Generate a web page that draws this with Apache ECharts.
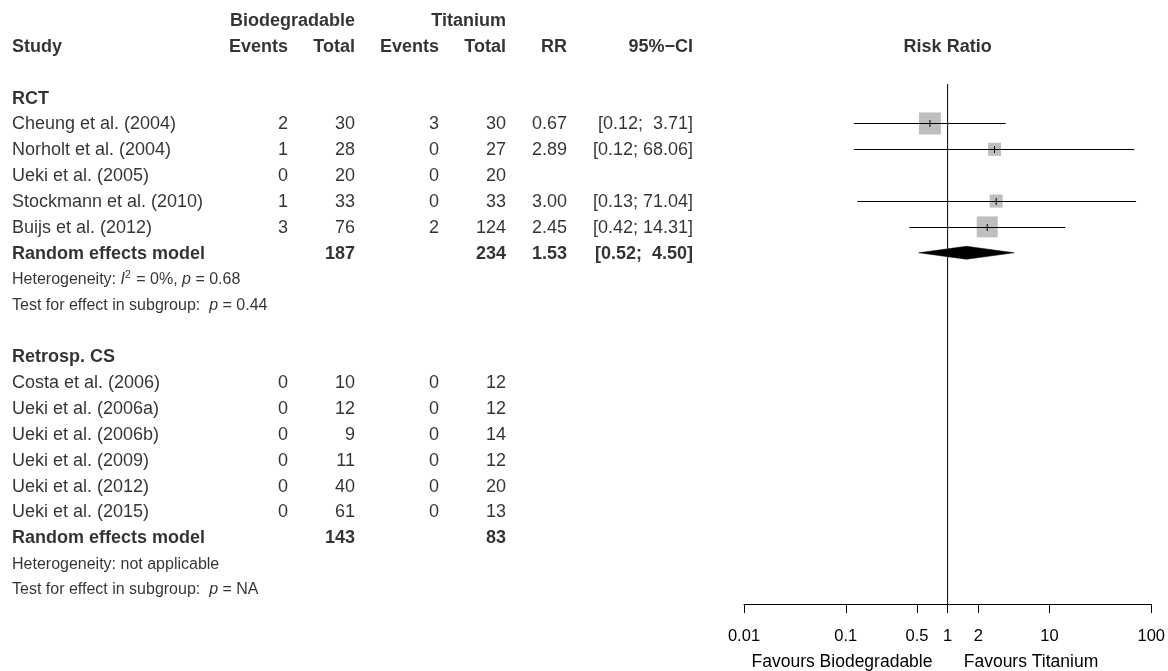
<!DOCTYPE html>
<html><head><meta charset="utf-8">
<script src="https://cdn.jsdelivr.net/npm/echarts@6/dist/echarts.min.js"></script>
<style>html,body{margin:0;padding:0;background:#fff}#c{width:1168px;height:671px}</style>
</head><body><div id="c"></div><script>
// ---------- data ----------
const rctStudies = ['Cheung et al. (2004)','Norholt et al. (2004)','Ueki et al. (2005)','Stockmann et al. (2010)','Buijs et al. (2012)'];
const rctEventsBio = [2,1,0,1,3];
const rctTotalBio = [30,28,20,33,76];
const rctEventsTi = [3,0,0,0,2];
const rctTotalTi = [30,27,20,33,124];
const rctRR = [0.67,2.89,null,3.00,2.45];
const rctLower = [0.12,0.12,null,0.13,0.42];
const rctUpper = [3.71,68.06,null,71.04,14.31];
const rctWeight = [38.3,13.4,0,13.4,34.9];
const rctPooled = [1.53,0.52,4.50];   // RR, lower, upper
const rctTotals = [187,234];
const rctHet = '{n|Heterogeneity: }{it|I}{sup|2}{n| = 0%, }{it|p}{n| = 0.68}';
const rctTest = '{n|Test for effect in subgroup:  }{it|p}{n| = 0.44}';

const csStudies = ['Costa et al. (2006)','Ueki et al. (2006a)','Ueki et al. (2006b)','Ueki et al. (2009)','Ueki et al. (2012)','Ueki et al. (2015)'];
const csEventsBio = [0,0,0,0,0,0];
const csTotalBio = [10,12,9,11,40,61];
const csEventsTi = [0,0,0,0,0,0];
const csTotalTi = [12,12,14,12,20,13];
const csTotals = [143,83];
const csHet = '{n|Heterogeneity: not applicable}';
const csTest = '{n|Test for effect in subgroup:  }{it|p}{n| = NA}';

const axisTicks = [0.01,0.1,0.5,1,2,10,100];
const favourLabels = ['Favours Biodegradable','Favours Titanium'];

// ---------- layout ----------
const FONT = '"Liberation Sans", Arial, sans-serif';
const FS = 18, FS_SMALL = 16;
const COL = {study:12, evB:288, totB:355, evT:439, totT:506, rr:567, ci:693};
const ROWMAX = 22.58;

function pad(s, n){ while(s.length<n) s=' '+s; return s; }
function ciText(lo, hi){ return '[' + pad(lo.toFixed(2),4) + ';' + pad(hi.toFixed(2),6) + ']'; }

const textItems = [];
function T(x, row, text, align, bold, small){
  const fs = small?FS_SMALL:FS;
  textItems.push({
    name: text, value:[x,row],
    label:{align:align, fontWeight: bold?'bold':'normal', fontSize: fs,
      rich:{
        n:{fontFamily:FONT, fontSize: fs, color:'#000'},
        it:{fontFamily:FONT, fontSize: fs, fontStyle:'italic', color:'#000'},
        sup:{fontFamily:FONT, fontSize: 10.5, color:'#000', verticalAlign:'top', padding:[0,1,9,0]}
      }}
  });
}
// headers
T(COL.totB,0,'Biodegradable','right',true);
T(COL.totT,0,'Titanium','right',true);
T(COL.study,1,'Study','left',true);
T(COL.evB,1,'Events','right',true);
T(COL.totB,1,'Total','right',true);
T(COL.evT,1,'Events','right',true);
T(COL.totT,1,'Total','right',true);
T(COL.rr,1,'RR','right',true);
T(COL.ci,1,'95%\u2212CI','right',true);
// RCT
T(COL.study,3,'RCT','left',true);
rctStudies.forEach((s,i)=>{
  const r = 4+i;
  T(COL.study,r,s,'left');
  T(COL.evB,r,String(rctEventsBio[i]),'right');
  T(COL.totB,r,String(rctTotalBio[i]),'right');
  T(COL.evT,r,String(rctEventsTi[i]),'right');
  T(COL.totT,r,String(rctTotalTi[i]),'right');
  if(rctRR[i]!=null){
    T(COL.rr,r,rctRR[i].toFixed(2),'right');
    T(COL.ci,r,ciText(rctLower[i],rctUpper[i]),'right');
  }
});
const rctPoolRow = 4+rctStudies.length;
T(COL.study,rctPoolRow,'Random effects model','left',true);
T(COL.totB,rctPoolRow,String(rctTotals[0]),'right',true);
T(COL.totT,rctPoolRow,String(rctTotals[1]),'right',true);
T(COL.rr,rctPoolRow,rctPooled[0].toFixed(2),'right',true);
T(COL.ci,rctPoolRow,ciText(rctPooled[1],rctPooled[2]),'right',true);
T(COL.study,rctPoolRow+1,rctHet,'left',false,true);
T(COL.study,rctPoolRow+2,rctTest,'left',false,true);
// Retrosp CS
const csHead = rctPoolRow+4;
T(COL.study,csHead,'Retrosp. CS','left',true);
csStudies.forEach((s,i)=>{
  const r = csHead+1+i;
  T(COL.study,r,s,'left');
  T(COL.evB,r,String(csEventsBio[i]),'right');
  T(COL.totB,r,String(csTotalBio[i]),'right');
  T(COL.evT,r,String(csEventsTi[i]),'right');
  T(COL.totT,r,String(csTotalTi[i]),'right');
});
const csPoolRow = csHead+1+csStudies.length;
T(COL.study,csPoolRow,'Random effects model','left',true);
T(COL.totB,csPoolRow,String(csTotals[0]),'right',true);
T(COL.totT,csPoolRow,String(csTotals[1]),'right',true);
T(COL.study,csPoolRow+1,csHet,'left',false,true);
T(COL.study,csPoolRow+2,csTest,'left',false,true);

// forest data
const forestData = [];
rctStudies.forEach((s,i)=>{
  if(rctRR[i]!=null) forestData.push([rctRR[i],rctLower[i],rctUpper[i],4+i,rctWeight[i]]);
});
const maxW = Math.max.apply(null, rctWeight);
const MAXSIDE = 22;
const diamondData = [[rctPooled[0],rctPooled[1],rctPooled[2],rctPoolRow]];

const chart = echarts.init(document.getElementById('c'), null, {renderer:'canvas'});
chart.setOption({
  animation:false,
  backgroundColor:'#fff',
  grid:[
    {left:0,right:0,top:20,bottom:67},
    {left:744,right:16,top:20,bottom:67}
  ],
  xAxis:[
    {gridIndex:0,type:'value',min:0,max:1168,show:false},
    {gridIndex:1,type:'log',logBase:10,min:0.01,max:100,
      axisLine:{show:true,onZero:false,lineStyle:{color:'#000',width:1}},
      axisTick:{show:true,length:9,customValues:axisTicks,lineStyle:{color:'#000',width:1}},
      axisLabel:{show:true,customValues:axisTicks,margin:24,color:'#000',fontFamily:FONT,fontSize:16.5,
        formatter:function(v){return String(+v.toPrecision(6));}},
      splitLine:{show:false},minorTick:{show:false}}
  ],
  yAxis:[
    {gridIndex:0,type:'value',inverse:true,min:0,max:ROWMAX,show:false},
    {gridIndex:1,type:'value',inverse:true,min:0,max:ROWMAX,show:false}
  ],
  series:[
    {type:'scatter',xAxisIndex:0,yAxisIndex:0,symbolSize:0,silent:true,clip:false,
      label:{show:true,position:[0,0],offset:[0,1],verticalAlign:'middle',color:'#000',fontFamily:FONT,fontSize:FS,formatter:'{b}'},
      data:textItems},
    {type:'scatter',xAxisIndex:1,yAxisIndex:1,symbolSize:0,silent:true,clip:false,
      label:{show:true,position:[0,0],offset:[0,1],align:'center',verticalAlign:'middle',color:'#000',fontFamily:FONT,fontSize:FS,fontWeight:'bold',formatter:'{b}'},
      data:[{name:'Risk Ratio',value:[1,1]}]},
    {type:'line',xAxisIndex:1,yAxisIndex:1,symbol:'none',silent:true,
      lineStyle:{color:'#000',width:1},data:[[1,2.47],[1,ROWMAX]]},
    {type:'custom',xAxisIndex:1,yAxisIndex:1,silent:true,clip:false,
      renderItem:function(params,api){
        const rr=api.value(0),lo=api.value(1),hi=api.value(2),row=api.value(3),w=api.value(4);
        const pL=api.coord([lo,row]),pH=api.coord([hi,row]),pC=api.coord([rr,row]);
        const side=MAXSIDE*Math.sqrt(w/maxW);
        const y=Math.round(pC[1])+0.5;
        return {type:'group',children:[
          {type:'rect',shape:{x:pC[0]-side/2,y:pC[1]-side/2,width:side,height:side},style:{fill:'#bebebe'}},
          {type:'line',shape:{x1:pL[0],y1:y,x2:pH[0],y2:y},style:{stroke:'#000',lineWidth:1}},
          {type:'line',shape:{x1:pC[0],y1:y-3.5,x2:pC[0],y2:y+3.5},style:{stroke:'#000',lineWidth:1}}
        ]};
      },
      encode:{x:0,y:3},
      data:forestData},
    {type:'custom',xAxisIndex:1,yAxisIndex:1,silent:true,clip:false,
      renderItem:function(params,api){
        const rr=api.value(0),lo=api.value(1),hi=api.value(2),row=api.value(3);
        const pL=api.coord([lo,row]),pH=api.coord([hi,row]),pC=api.coord([rr,row]);
        const h=6.5;
        return {type:'polygon',shape:{points:[[pL[0],pL[1]],[pC[0],pC[1]-h],[pH[0],pH[1]],[pC[0],pC[1]+h]]},
          style:{fill:'#000',stroke:'#000',lineWidth:0.5}};
      },
      encode:{x:0,y:3},
      data:diamondData}
  ],
  graphic:[
    {type:'text',x:842,y:662,style:{text:favourLabels[0],fill:'#000',font:'17.5px '+FONT,textAlign:'center',textVerticalAlign:'middle'}},
    {type:'text',x:1031,y:662,style:{text:favourLabels[1],fill:'#000',font:'17.5px '+FONT,textAlign:'center',textVerticalAlign:'middle'}}
  ]
});
</script></body></html>
